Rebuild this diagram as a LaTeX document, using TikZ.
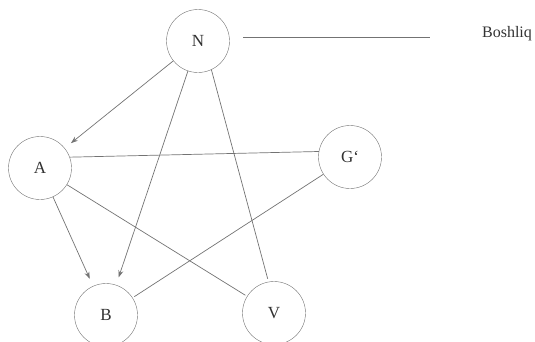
\documentclass[tikz,border=0pt]{standalone}
\usepackage{xcolor}
\usepackage{fontspec}
\setmainfont{Liberation Serif}
\usetikzlibrary{arrows.meta, positioning}
\definecolor{myline}{RGB}{115, 115, 115}
\definecolor{mytext}{RGB}{50, 50, 50}

\begin{document}
\begin{tikzpicture}[
			x=1pt, y=-1pt,
			vertex/.style={draw=myline, circle, minimum size=63pt, inner sep=0pt,
				font=\fontsize{17}{19}\selectfont, text=mytext},
			link/.style={draw=myline, line width=0.7pt},
			>={Stealth[length=7pt, width=5pt]},
			]
			\useasboundingbox (0,0) rectangle (535,341);
			\node[vertex] (n) at (198,41) {N};
			\node[vertex] (a) at (40,168) {A};
			\node[vertex] (g) at (350,157) {G`};
			\node[vertex] (b) at (106,315) {B};
			\node[vertex] (v) at (274,313) {V};
			\node[font=\fontsize{16}{18}\selectfont, text=mytext] (bosh) at (507,34) {Boshliq};
			\coordinate (l1) at (243,37);
			\coordinate (l2) at (430,37);
			\draw[link] (l1) -- (l2);
			% arrows
			\foreach \a/\b in {n/a, n/b, a/b}
			\draw[link, ->, shorten >=8pt] (\a) -- (\b);
			% plain lines
			\draw[link] (a.20) -- (g.170);
			\draw[link, shorten >=3pt] (n.-65) -- (v.100);
			\draw[link, shorten >=2pt] (a) -- (v);
			\draw[link, shorten >=2pt] (g) -- (b);
	\end{tikzpicture}
\end{document}
